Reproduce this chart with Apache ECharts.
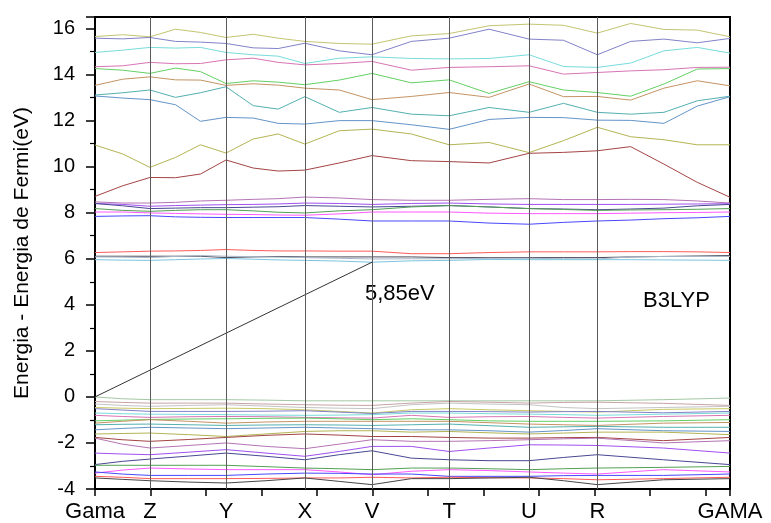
<!DOCTYPE html>
<html><head><meta charset="utf-8">
<script src="https://cdn.jsdelivr.net/npm/echarts@6/dist/echarts.min.js"></script>
<style>html,body{margin:0;padding:0;background:#fff}#c{width:771px;height:523px}</style>
</head><body><div id="c"></div>
<script>
// high-symmetry k-points
const kLabels = ['Gama','Z','Y','X','V','T','U','R','GAMA'];
const kLabelPos = [0, 0.99, 2.36, 3.78, 4.99, 6.38, 7.82, 9.05, 11.44];
// k sampling for conduction bands
const kCond = [0,0.5,0.99,1.45,1.9,2.36,2.85,3.3,3.78,4.4,4.99,5.7,6.38,7.1,7.82,8.44,9.05,9.65,10.25,10.85,11.44];
// k sampling for valence bands
const kVal = [0,0.49,0.99,1.69,2.36,3.08,3.78,4.4,4.99,5.7,6.38,7.1,7.82,8.44,9.05,10.24,11.44];

// conduction bands (eV)
const c01 = [15.65,15.73,15.64,15.97,15.83,15.61,15.75,15.58,15.44,15.35,15.32,15.68,15.78,16.12,16.19,16.14,15.80,16.22,15.96,15.93,15.64];
const c02 = [15.58,15.55,15.61,15.44,15.41,15.35,15.16,15.13,15.36,15.03,14.86,15.44,15.58,15.97,15.54,15.49,14.86,15.44,15.54,15.38,15.57];
const c03 = [14.96,15.06,15.18,15.15,15.18,14.96,14.86,14.80,14.48,14.71,14.77,14.70,14.68,14.70,14.86,14.35,14.31,14.50,15.03,15.18,14.93];
const c04 = [14.34,14.38,14.53,14.47,14.48,14.64,14.71,14.53,14.42,14.48,14.57,14.19,14.31,14.34,14.38,14.02,14.09,14.16,14.21,14.31,14.32];
const c05 = [14.26,14.19,14.05,14.28,14.13,13.61,13.73,13.67,13.56,13.76,14.05,13.64,13.77,13.18,13.69,13.33,13.22,13.06,13.59,14.24,14.26];
const c06 = [13.53,13.80,13.90,13.77,13.76,13.53,13.60,13.54,13.41,13.33,12.91,13.05,13.22,13.01,13.59,13.04,13.05,12.89,13.41,13.73,13.51];
const c07 = [13.11,13.21,13.33,13.01,13.21,13.47,12.65,12.50,13.04,12.36,12.57,12.28,12.21,12.57,12.36,12.75,12.36,12.28,12.36,12.86,13.06];
const c08 = [13.07,12.98,12.91,12.69,11.97,12.14,12.11,11.88,11.85,12.00,12.00,11.82,11.62,12.05,12.14,12.13,12.02,12.01,11.88,12.63,13.04];
const c09 = [10.94,10.55,9.97,10.40,10.95,10.59,11.20,11.42,10.98,11.56,11.63,11.42,10.95,11.05,10.61,11.13,11.71,11.30,11.17,10.95,10.95];
const c10 = [8.71,9.17,9.53,9.52,9.68,10.29,9.94,9.81,9.85,10.16,10.48,10.26,10.22,10.16,10.58,10.62,10.69,10.87,10.11,9.32,8.67];
const c11 = [8.47,8.42,8.42,8.45,8.51,8.54,8.58,8.61,8.68,8.64,8.57,8.54,8.54,8.58,8.61,8.57,8.57,8.58,8.57,8.51,8.42];
const c12 = [8.40,8.36,8.28,8.31,8.33,8.35,8.36,8.38,8.42,8.40,8.36,8.40,8.42,8.38,8.36,8.36,8.36,8.36,8.37,8.38,8.39];
const c13 = [8.40,8.30,8.18,8.20,8.22,8.22,8.24,8.26,8.31,8.28,8.25,8.28,8.31,8.25,8.18,8.16,8.13,8.16,8.20,8.30,8.36];
const c14 = [8.18,8.10,8.06,8.10,8.13,8.13,8.08,8.02,7.99,8.08,8.13,8.25,8.31,8.25,8.18,8.14,8.10,8.12,8.13,8.15,8.18];
const c15 = [8.03,8.03,7.99,7.97,7.95,7.93,7.92,7.90,7.89,7.95,8.03,8.03,8.03,7.98,7.96,7.96,7.96,7.98,8.00,8.01,8.03];
const c16 = [7.84,7.86,7.87,7.82,7.80,7.79,7.79,7.79,7.79,7.72,7.64,7.64,7.64,7.55,7.50,7.58,7.64,7.68,7.74,7.78,7.84];
const c17 = [6.27,6.30,6.33,6.34,6.36,6.40,6.36,6.34,6.34,6.33,6.33,6.22,6.22,6.27,6.30,6.30,6.30,6.31,6.31,6.30,6.27];
const c18 = [6.11,6.11,6.11,6.11,6.11,6.05,6.08,6.10,6.08,6.08,6.08,6.08,6.05,6.05,6.05,6.05,6.05,6.08,6.10,6.12,6.14];
const c19 = [6.08,6.07,6.05,6.10,6.14,6.11,6.09,6.07,6.05,6.02,5.99,6.00,6.00,6.02,6.02,6.00,5.99,6.08,6.10,6.10,6.10];
const c20 = [5.96,5.94,5.93,5.96,5.99,6.01,5.98,5.95,5.93,5.90,5.85,5.91,5.93,5.97,5.96,5.96,5.96,5.96,5.95,5.94,5.93];

// valence bands (eV)
const v01 = [0.00,-0.08,-0.12,-0.12,-0.12,-0.14,-0.17,-0.17,-0.17,-0.17,-0.17,-0.17,-0.17,-0.17,-0.17,-0.12,-0.05];
const v02 = [-0.20,-0.24,-0.27,-0.27,-0.27,-0.31,-0.34,-0.36,-0.37,-0.27,-0.20,-0.23,-0.27,-0.24,-0.23,-0.28,-0.37];
const v03 = [-0.31,-0.37,-0.41,-0.37,-0.34,-0.40,-0.46,-0.49,-0.51,-0.34,-0.27,-0.31,-0.34,-0.46,-0.51,-0.46,-0.41];
const v04 = [-0.46,-0.49,-0.51,-0.50,-0.49,-0.51,-0.56,-0.63,-0.70,-0.56,-0.51,-0.56,-0.60,-0.63,-0.66,-0.54,-0.51];
const v05 = [-0.51,-0.57,-0.63,-0.63,-0.63,-0.62,-0.60,-0.66,-0.72,-0.63,-0.63,-0.64,-0.66,-0.64,-0.63,-0.69,-0.63];
const v06 = [-0.70,-0.73,-0.75,-0.76,-0.77,-0.79,-0.80,-0.79,-0.77,-0.70,-0.70,-0.73,-0.75,-0.77,-0.80,-0.75,-0.70];
const v07 = [-0.80,-0.85,-0.89,-0.86,-0.85,-0.86,-0.89,-0.91,-0.92,-0.80,-0.89,-0.86,-0.85,-0.89,-0.92,-0.85,-0.80];
const v08 = [-1.04,-1.01,-0.98,-0.96,-0.95,-0.93,-0.92,-0.95,-0.99,-0.95,-0.99,-1.04,-1.06,-1.06,-1.06,-1.04,-0.99];
const v09 = [-1.14,-1.06,-0.99,-1.06,-1.14,-1.09,-1.06,-1.06,-1.06,-1.06,-1.06,-1.12,-1.18,-1.21,-1.24,-1.14,-1.11];
const v10 = [-1.21,-1.19,-1.18,-1.21,-1.24,-1.22,-1.21,-1.22,-1.24,-1.21,-1.18,-1.25,-1.32,-1.30,-1.28,-1.32,-1.32];
const v11 = [-1.43,-1.37,-1.32,-1.35,-1.38,-1.35,-1.32,-1.35,-1.38,-1.43,-1.43,-1.47,-1.53,-1.46,-1.38,-1.47,-1.50];
const v12 = [-1.61,-1.59,-1.57,-1.64,-1.72,-1.61,-1.50,-1.47,-1.47,-1.53,-1.50,-1.56,-1.61,-1.57,-1.53,-1.53,-1.64];
const v13 = [-1.76,-1.86,-1.93,-1.85,-1.76,-1.67,-1.61,-1.66,-1.72,-1.72,-1.76,-1.79,-1.79,-1.77,-1.76,-1.90,-1.76];
const v14 = [-1.79,-2.05,-2.22,-2.11,-2.00,-2.15,-2.25,-2.05,-1.86,-1.93,-1.93,-1.90,-1.86,-1.82,-1.79,-2.00,-1.90];
const v15 = [-2.44,-2.48,-2.51,-2.40,-2.29,-2.44,-2.58,-2.37,-2.15,-2.15,-2.37,-2.22,-2.08,-2.09,-2.11,-2.22,-2.44];
const v16 = [-2.94,-2.80,-2.70,-2.57,-2.44,-2.58,-2.73,-2.51,-2.34,-2.66,-2.73,-2.77,-2.77,-2.63,-2.51,-2.73,-2.94];
const v17 = [-2.97,-2.97,-2.97,-2.97,-2.97,-3.03,-3.09,-3.12,-3.16,-3.09,-3.09,-3.12,-3.16,-3.12,-3.09,-3.06,-3.02];
const v18 = [-3.31,-3.18,-3.09,-3.13,-3.16,-3.16,-3.16,-3.26,-3.38,-3.23,-3.16,-3.20,-3.26,-3.31,-3.35,-3.16,-3.26];
const v19 = [-3.26,-3.35,-3.41,-3.41,-3.41,-3.35,-3.31,-3.32,-3.35,-3.35,-3.45,-3.45,-3.45,-3.42,-3.41,-3.41,-3.35];
const v20 = [-3.45,-3.49,-3.55,-3.55,-3.55,-3.54,-3.52,-3.52,-3.49,-3.52,-3.49,-3.51,-3.52,-3.55,-3.60,-3.55,-3.49];
const v21 = [-3.52,-3.58,-3.64,-3.70,-3.74,-3.64,-3.52,-3.67,-3.81,-3.55,-3.55,-3.52,-3.49,-3.64,-3.81,-3.60,-3.55];

// band gap annotation
const gapK = [0, 4.99];
const gapE = [0, 5.85];
const gapLabel = '5,85eV';
const methodLabel = 'B3LYP';
const yTitle = 'Energia - Energia de Fermi(eV)';

const condBands = [c01,c02,c03,c04,c05,c06,c07,c08,c09,c10,c11,c12,c13,c14,c15,c16,c17,c18,c19,c20];
const condColors = ['#c4c472','#8282c8','#78dcdc','#d874b4','#64d064','#c49464','#54b0b0','#6494c8','#b4b454','#a44444',
                    '#b474b4','#a050f0','#484894','#54a054','#ff58ff','#4848ff','#ff5a5a','#4a4a5a','#a8b8c8','#7cc4e0'];
const valBands = [v01,v02,v03,v04,v05,v06,v07,v08,v09,v10,v11,v12,v13,v14,v15,v16,v17,v18,v19,v20,v21];
const valColors = ['#a4c8a4','#c8a4a4','#c4c4c4','#c8c864','#8282c8','#78dcdc','#d874b4','#64d064','#c49464','#54b0b0','#6494c8',
                   '#b4b454','#a44444','#b474b4','#a050f0','#484894','#54a054','#ff58ff','#4848ff','#ff5a5a','#484848'];

const series = [];
condBands.forEach((b, i) => series.push({
  type: 'line', data: kCond.map((k, j) => [k, b[j]]), showSymbol: false, silent: true,
  lineStyle: { color: condColors[i], width: 1 }, z: 3
}));
valBands.forEach((b, i) => series.push({
  type: 'line', data: kVal.map((k, j) => [k, b[j]]), showSymbol: false, silent: true,
  lineStyle: { color: valColors[i], width: 1 }, z: 3
}));
series.push({
  type: 'line', data: gapK.map((k, j) => [k, gapE[j]]), showSymbol: false, silent: true,
  lineStyle: { color: '#000', width: 0.8 }, z: 4,
  markLine: {
    symbol: 'none', silent: true, label: { show: false },
    lineStyle: { color: '#5a5a5a', width: 1, type: 'solid' },
    data: kLabelPos.slice(1, -1).map(x => ({ xAxis: x }))
  }
});

const chart = echarts.init(document.getElementById('c'), null, { renderer: 'canvas' });
const font = 'Liberation Sans, Arial, sans-serif';
chart.setOption({
  animation: false,
  backgroundColor: '#fff',
  grid: { left: 95, right: 41, top: 17, bottom: 34, show: true, borderColor: '#000', borderWidth: 2 },
  xAxis: {
    type: 'value', min: 0, max: 11.44, interval: 1,
    axisLine: { show: true, onZero: false, lineStyle: { color: '#000', width: 1.5 } },
    axisTick: { show: true, length: 7, lineStyle: { color: '#000', width: 1.5 } },
    splitLine: { show: false },
    axisLabel: {
      customValues: kLabelPos, margin: 12, color: '#000', fontSize: 22, fontFamily: font,
      formatter: v => { let bi = 0; kLabelPos.forEach((p, i) => { if (Math.abs(p - v) < Math.abs(kLabelPos[bi] - v)) bi = i; }); return kLabels[bi]; }
    }
  },
  yAxis: {
    type: 'value', min: -4, max: 16.5, interval: 2,
    name: yTitle, nameLocation: 'middle', nameGap: 62, nameRotate: 90,
    nameTextStyle: { fontSize: 21, color: '#000', fontFamily: font },
    axisLine: { show: true, onZero: false, lineStyle: { color: '#000', width: 1.5 } },
    axisTick: { show: true, length: 9, lineStyle: { color: '#000', width: 1.5 } },
    minorTick: { show: true, splitNumber: 2, length: 5, lineStyle: { color: '#000', width: 1.2 } },
    splitLine: { show: false },
    axisLabel: { color: '#000', fontSize: 20, fontFamily: font, margin: 20,
      formatter: v => (Math.abs(v % 2) < 1e-9 ? String(v) : '') }
  },
  graphic: [
    { type: 'text', left: 365, top: 283, style: { text: gapLabel, fontSize: 22, fill: '#000', fontFamily: font } },
    { type: 'text', left: 643, top: 290, style: { text: methodLabel, fontSize: 22, fill: '#000', fontFamily: font } }
  ],
  series
});
</script></body></html>
